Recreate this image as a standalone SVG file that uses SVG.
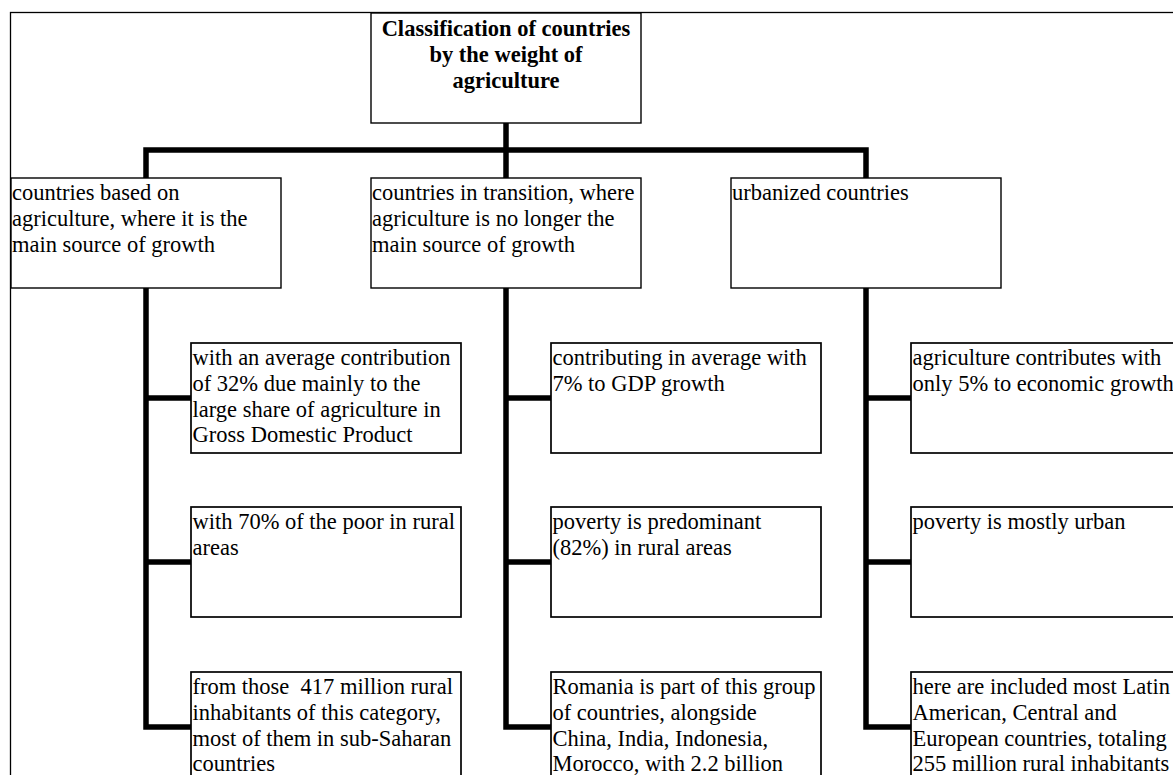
<svg xmlns="http://www.w3.org/2000/svg" width="1173" height="775" viewBox="0 0 1173 775">
<style>
.frame{fill:none;stroke:#000;stroke-width:1.3}
.box{fill:#fff;stroke:#000;stroke-width:1.4}
.box3{fill:#fff;stroke:#000;stroke-width:1.7}
.t{font-family:"Liberation Serif","Times New Roman",serif;font-size:22.5px;fill:#000}
.b{font-weight:bold;text-anchor:middle}
.conn{fill:none;stroke:#000;stroke-width:5.5;stroke-linejoin:miter;stroke-linecap:butt}
</style>
<rect x="0" y="0" width="1173" height="775" fill="#fff"/>
<rect class="frame" x="10.5" y="12.5" width="1180" height="800"/>
<g id="connectors">
<path class="conn" d="M506 123 V178"/>
<path class="conn" d="M146 178 V150 H866 V178"/>
<path class="conn" d="M146 288 V727 H191 M146 398 H191 M146 562 H191"/>
<path class="conn" d="M506 288 V727 H551 M506 398 H551 M506 562 H551"/>
<path class="conn" d="M866 288 V727 H911 M866 398 H911 M866 562 H911"/>
</g>
<g id="root">
<rect class="box" x="371" y="13" width="270" height="110"/>
<text class="t b"><tspan x="506" y="36">Classification of countries</tspan><tspan x="506" y="62">by the weight of</tspan><tspan x="506" y="88">agriculture</tspan></text>
</g>
<g id="cat1">
<rect class="box" x="11" y="178" width="270" height="110"/>
<text class="t"><tspan x="12" y="200">countries based on</tspan><tspan x="12" y="226">agriculture, where it is the</tspan><tspan x="12" y="252">main source of growth</tspan></text>
</g>
<g id="cat2">
<rect class="box" x="371" y="178" width="270" height="110"/>
<text class="t"><tspan x="372" y="200">countries in transition, where</tspan><tspan x="372" y="226">agriculture is no longer the</tspan><tspan x="372" y="252">main source of growth</tspan></text>
</g>
<g id="cat3">
<rect class="box" x="731" y="178" width="270" height="110"/>
<text class="t"><tspan x="732" y="200">urbanized countries</tspan></text>
</g>
<g id="a1">
<rect class="box3" x="191" y="343" width="270" height="110"/>
<text class="t"><tspan x="192.5" y="365">with an average contribution</tspan><tspan x="192.5" y="391">of 32% due mainly to the</tspan><tspan x="192.5" y="416.5">large share of agriculture in</tspan><tspan x="192.5" y="442">Gross Domestic Product</tspan></text>
</g>
<g id="a2">
<rect class="box3" x="191" y="507" width="270" height="110"/>
<text class="t"><tspan x="192.5" y="529">with 70% of the poor in rural</tspan><tspan x="192.5" y="555">areas</tspan></text>
</g>
<g id="a3">
<rect class="box3" x="191" y="672" width="270" height="110"/>
<text class="t"><tspan x="192.5" y="694">from those&#160; 417 million rural</tspan><tspan x="192.5" y="720">inhabitants of this category,</tspan><tspan x="192.5" y="745.5">most of them in sub-Saharan</tspan><tspan x="192.5" y="771">countries</tspan></text>
</g>
<g id="b1">
<rect class="box3" x="551" y="343" width="270" height="110"/>
<text class="t"><tspan x="552.5" y="365">contributing in average with</tspan><tspan x="552.5" y="391">7% to GDP growth</tspan></text>
</g>
<g id="b2">
<rect class="box3" x="551" y="507" width="270" height="110"/>
<text class="t"><tspan x="552.5" y="529">poverty is predominant</tspan><tspan x="552.5" y="555">(82%) in rural areas</tspan></text>
</g>
<g id="b3">
<rect class="box3" x="551" y="672" width="270" height="110"/>
<text class="t"><tspan x="552.5" y="694">Romania is part of this group</tspan><tspan x="552.5" y="720">of countries, alongside</tspan><tspan x="552.5" y="745.5">China, India, Indonesia,</tspan><tspan x="552.5" y="771">Morocco, with 2.2 billion</tspan></text>
</g>
<g id="c1">
<rect class="box3" x="911" y="343" width="270" height="110"/>
<text class="t"><tspan x="912.5" y="365">agriculture contributes with</tspan><tspan x="912.5" y="391">only 5% to economic growth</tspan></text>
</g>
<g id="c2">
<rect class="box3" x="911" y="507" width="270" height="110"/>
<text class="t"><tspan x="912.5" y="529">poverty is mostly urban</tspan></text>
</g>
<g id="c3">
<rect class="box3" x="911" y="672" width="270" height="110"/>
<text class="t"><tspan x="912.5" y="694">here are included most Latin</tspan><tspan x="912.5" y="720">American, Central and</tspan><tspan x="912.5" y="745.5">European countries, totaling</tspan><tspan x="912.5" y="771">255 million rural inhabitants</tspan></text>
</g>
</svg>
